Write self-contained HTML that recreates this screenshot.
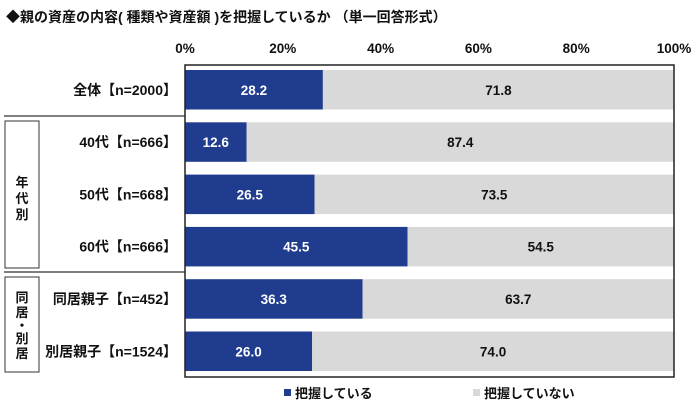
<!DOCTYPE html>
<html><head><meta charset="utf-8"><style>
body{margin:0;background:#fff;font-family:"Liberation Sans","Noto Sans CJK JP",sans-serif;font-weight:bold;}
</style></head><body>
<svg width="700" height="412" style="font-family:'Liberation Sans','Noto Sans CJK JP',sans-serif;font-weight:bold">
<text x="6" y="22" font-size="14" fill="#111">◆親の資産の内容( 種類や資産額 )を把握しているか （単一回答形式）</text>
<g id="ticks"></g>
<g id="bars"></g>
<g id="labels"></g>
<line x1="4" y1="116" x2="185" y2="116" stroke="#555" stroke-width="1.5"/>
<line x1="4" y1="272" x2="185" y2="272" stroke="#555" stroke-width="1.5"/>
<rect x="5" y="121" width="34" height="147" fill="none" stroke="#333"/>
<text x="22" y="187" font-size="13" text-anchor="middle" fill="#111"><tspan x="22">年</tspan><tspan x="22" dy="16">代</tspan><tspan x="22" dy="16">別</tspan></text>
<rect x="5" y="277" width="34" height="95" fill="none" stroke="#333"/>
<text x="22" y="302" font-size="13" text-anchor="middle" fill="#111"><tspan x="22">同</tspan><tspan x="22" dy="15">居</tspan><tspan x="22" dy="13">・</tspan><tspan x="22" dy="13">別</tspan><tspan x="22" dy="15">居</tspan></text>
<rect x="185" y="65" width="489" height="312" fill="none" stroke="#222" stroke-width="1.5"/>
<rect x="284" y="389" width="7" height="7" fill="#1f3c8f"/>
<text x="295" y="398" font-size="13" fill="#111">把握している</text>
<rect x="473" y="389" width="7" height="7" fill="#d9d9d9"/>
<text x="484" y="398" font-size="13" fill="#111">把握していない</text>
</svg>
<script>
const categories=["全体【n=2000】","40代【n=666】","50代【n=668】","60代【n=666】","同居親子【n=452】","別居親子【n=1524】"];
const known=[28.2,12.6,26.5,45.5,36.3,26.0];
const unknown=[71.8,87.4,73.5,54.5,63.7,74.0];
const tickLabels=[0,20,40,60,80,100];
const NS="http://www.w3.org/2000/svg";
const x0=185,pw=489;
const xs=v=>x0+v/100*pw;
const ys=i=>70+i*52.3;
const bh=39.5;
function mk(t,a,p,txt){const e=document.createElementNS(NS,t);for(const k in a)e.setAttribute(k,a[k]);if(txt!=null)e.textContent=txt;document.getElementById(p).appendChild(e);return e;}
tickLabels.forEach((t,i)=>{
 const e=mk("text",{x:xs(t),y:53,"font-size":13.5,"text-anchor":"middle",fill:"#111"},"ticks",t+"%");
 
 
});
categories.forEach((c,i)=>{
 const y=ys(i);
 const b1=mk("rect",{x:xs(0),y:y,width:xs(known[i])-xs(0),height:bh,fill:"#1f3c8f"},"bars");
 
 
 const b2=mk("rect",{x:xs(known[i]),y:y,width:xs(known[i]+unknown[i])-xs(known[i]),height:bh,fill:"#d9d9d9"},"bars");
 
 
 const l1=mk("text",{x:(xs(0)+xs(known[i]))/2,y:y+bh/2+5,"font-size":13.5,"text-anchor":"middle",fill:"#fff"},"labels",known[i].toFixed(1));
 
 
 const l2=mk("text",{x:(xs(known[i])+xs(known[i]+unknown[i]))/2,y:y+bh/2+5,"font-size":13.5,"text-anchor":"middle",fill:"#111"},"labels",unknown[i].toFixed(1));
 
 
 const cl=mk("text",{x:177,y:y+bh/2+5,"font-size":14,"text-anchor":"end",fill:"#111"},"labels",c);
 
 
});
</script>
</body></html>
